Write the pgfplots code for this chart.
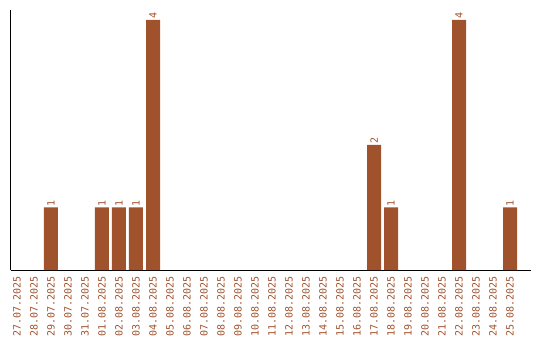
\documentclass[border=0pt]{standalone}
\usepackage{pgfplots}
\pgfplotsset{compat=1.18}
\usepackage{fontspec}
\setmonofont{DejaVu Sans Mono}
\definecolor{sienna}{HTML}{A0522D}
\begin{document}
\begin{tikzpicture}
\useasboundingbox (0,0) rectangle (540pt,340pt);
\begin{axis}[
  at={(10.5pt,70pt)}, anchor=south west,
  scale only axis, width=520pt, height=260pt,
  xmin=-0.38, xmax=30.2, ymin=0, ymax=4.16,
  axis x line=bottom, axis y line=left,
  axis line style={-, line width=1pt, black},
  ytick=\empty,
  xtick={0,...,29},
  xticklabels={27.07.2025,28.07.2025,29.07.2025,30.07.2025,31.07.2025,01.08.2025,02.08.2025,03.08.2025,04.08.2025,05.08.2025,06.08.2025,07.08.2025,08.08.2025,09.08.2025,10.08.2025,11.08.2025,12.08.2025,13.08.2025,14.08.2025,15.08.2025,16.08.2025,17.08.2025,18.08.2025,19.08.2025,20.08.2025,21.08.2025,22.08.2025,23.08.2025,24.08.2025,25.08.2025},
  major tick length=0pt,
  xticklabel shift=6pt,
  xticklabel style={rotate=90, anchor=east, font=\ttfamily\fontsize{10}{12}\selectfont, text=sienna, inner sep=0pt},
  ybar, bar width=14pt,
  nodes near coords={\pgfmathprintnumber[assume math mode=true]{\pgfplotspointmeta}},
  nodes near coords style={rotate=90, anchor=west, font=\ttfamily\fontsize{10}{12}\selectfont, text=sienna, inner sep=1pt},
  clip=false,
]
\addplot[fill=sienna, draw=none] coordinates {(2,1) (5,1) (6,1) (7,1) (8,4) (21,2) (22,1) (26,4) (29,1)};
\end{axis}
\end{tikzpicture}
\end{document}
